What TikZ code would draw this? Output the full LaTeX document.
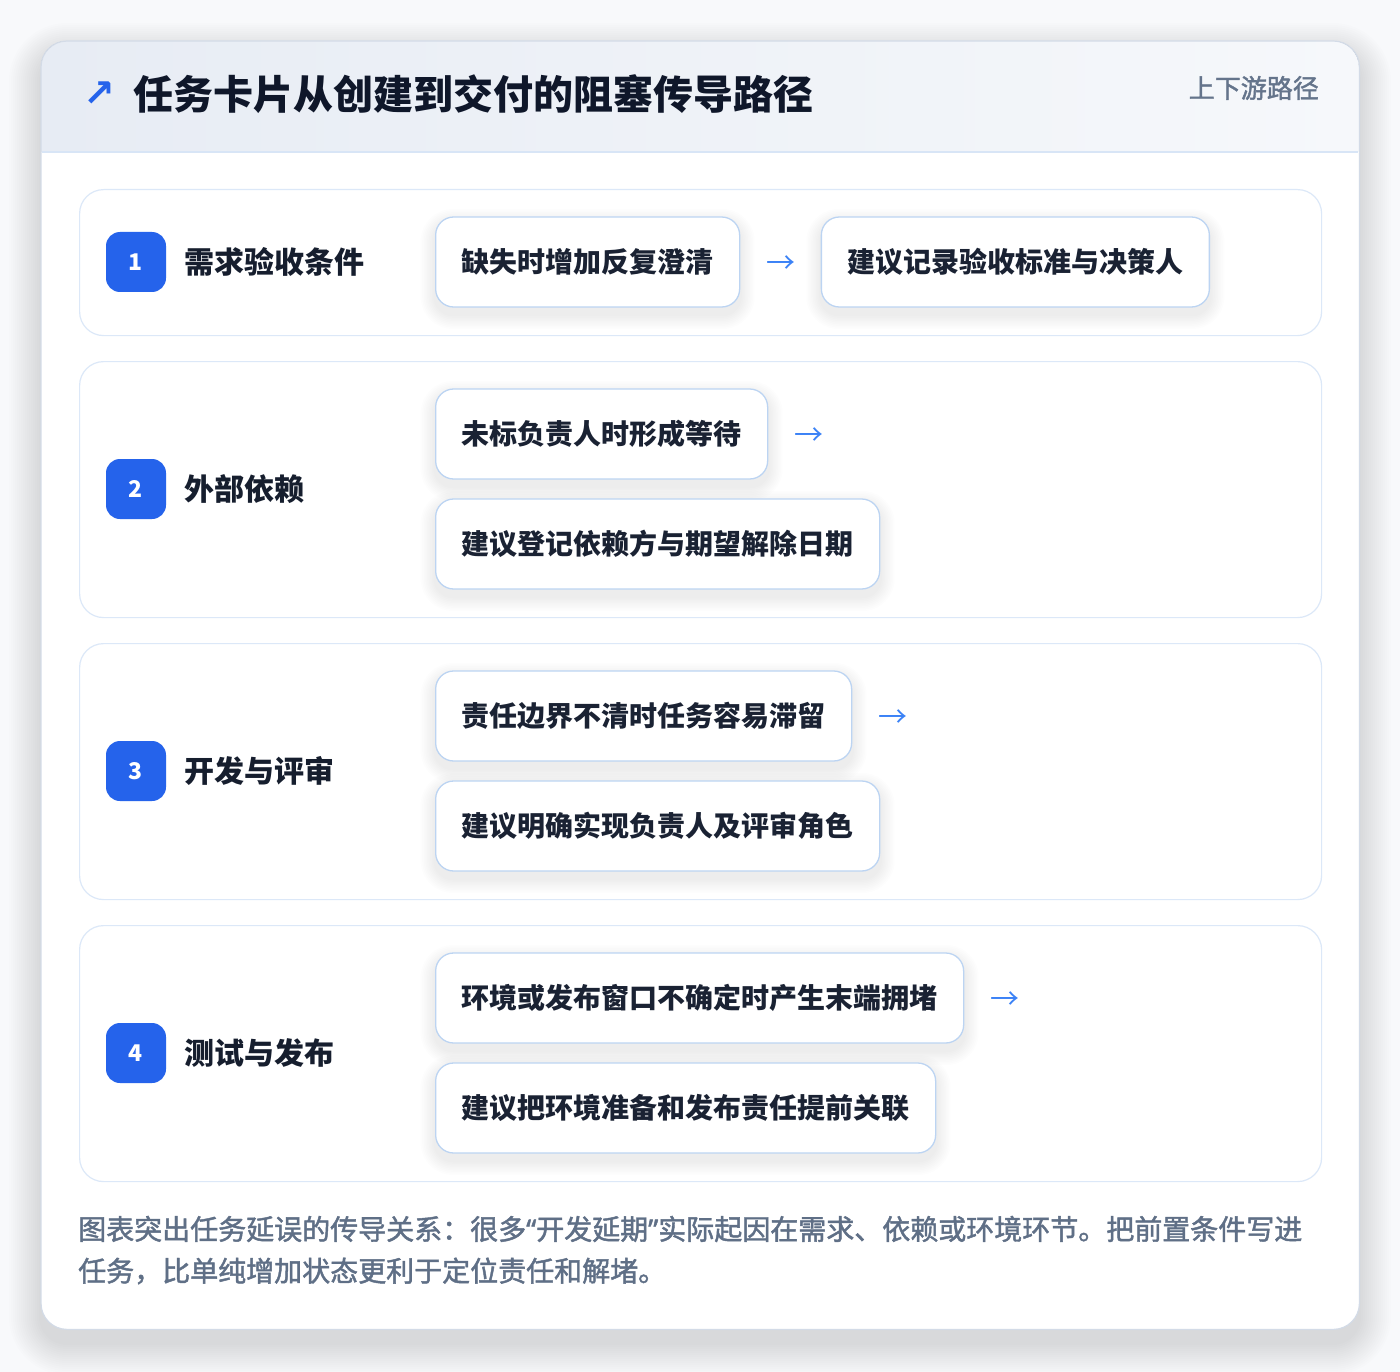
\documentclass[tikz,border=0pt]{standalone}
\usepackage{fontspec}
\setmainfont{Noto Sans CJK SC}
\newfontfamily\symfont{DejaVu Sans}
\newfontfamily\footfont{Noto Sans CJK SC}[FakeBold=1.6]
\newfontfamily\quotefont{Noto Sans}[FakeBold=1.6]
\usetikzlibrary{positioning}
\pgfdeclarelayer{rowlayer}
\pgfdeclarelayer{shadowlayer}
\pgfsetlayers{rowlayer,shadowlayer,main}
\definecolor{pagebg}{HTML}{F8F9FB}
\definecolor{cardline}{HTML}{D3DBE7}
\definecolor{headL}{HTML}{E7ECF4}
\definecolor{headR}{HTML}{F6F8FB}
\definecolor{headline}{HTML}{D8E5F6}
\definecolor{rowline}{HTML}{DCE8F8}
\definecolor{chipline}{HTML}{BCD4F2}
\definecolor{badgeblue}{HTML}{2563EB}
\definecolor{arrblue}{HTML}{3B82F6}
\definecolor{titlec}{HTML}{0F172A}
\definecolor{lblc}{HTML}{161E2E}
\definecolor{chipc}{HTML}{1A2233}
\definecolor{footc}{HTML}{5F6F86}
\definecolor{subc}{HTML}{64748B}
\tikzset{
  x=1pt, y=-1pt,
  rowbox/.style={draw=rowline, line width=1.2pt, fill=white, rounded corners=24pt,
    minimum width=1242pt, anchor=north west, inner sep=0pt},
  chipbox/.style={draw=chipline, line width=1.3pt, fill=white, rounded corners=18pt,
    minimum height=90pt, inner xsep=26pt, inner ysep=0pt, anchor=west,
    text=chipc, font=\fontsize{28pt}{34pt}\selectfont\bfseries},
  badge/.style={fill=badgeblue, rounded corners=14pt, minimum size=60pt, inner sep=0pt,
    text=white, font=\fontsize{23pt}{26pt}\selectfont\bfseries},
  lbl/.style={anchor=west, inner sep=0pt, text=lblc, font=\fontsize{30pt}{36pt}\selectfont\bfseries},
  arrtxt/.style={anchor=west, inner sep=0pt, text=arrblue, yshift=-3pt, font=\fontsize{29pt}{32pt}\selectfont},
  foot/.style={anchor=west, inner sep=0pt, text=footc, font=\footfont\fontsize{28pt}{32pt}\selectfont},
}
\newcommand{\chipshadow}[1]{%
  \foreach \i in {1,...,9}{
    \fill[black, opacity=0.009, rounded corners=18pt+\i*1.6pt]
      ([xshift=-\i*1.6pt, yshift=\i*1.6pt-7pt]#1.north west) rectangle
      ([xshift=\i*1.6pt, yshift=-\i*1.6pt-7pt]#1.south east);
  }}
\begin{document}
\begin{tikzpicture}
\begin{pgfonlayer}{rowlayer}
\useasboundingbox (0,0) rectangle (1400,1372);
\fill[pagebg] (0,0) rectangle (1400,1372);
% card shadow
\foreach \i in {1,...,16}{
  \fill[black, opacity=0.007, rounded corners=26pt+\i*2pt]
    (41-\i*2, 41-\i*2+14) rectangle (1359+\i*2, 1329+\i*2+14);
}
% card
\node[fill=white, rounded corners=26pt, minimum width=1318pt, minimum height=1288pt,
  anchor=north west, inner sep=0pt] (card) at (41,41) {};
\begin{scope}
  \clip[rounded corners=26pt] (41,41) rectangle (1359,1329);
  \fill[left color=headL, right color=headR] (41,41) rectangle (1359,152);
\end{scope}
\draw[headline, line width=1.2pt] (41.6,152) -- (1358.4,152);
\draw[cardline, line width=1.2pt, rounded corners=26pt] (card.north west) rectangle (card.south east);
% rows
\node[rowbox, minimum height=146pt] (r1) at (79,189) {};
\node[rowbox, minimum height=256pt] (r2) at (79,361) {};
\node[rowbox, minimum height=256pt] (r3) at (79,643) {};
\node[rowbox, minimum height=256pt] (r4) at (79,925) {};
\end{pgfonlayer}
% header
\node[anchor=center, inner sep=0pt, text=badgeblue, font=\symfont\fontsize{38pt}{40pt}\selectfont\bfseries] (harrow) at (99,94) {↗};
\node[anchor=west, inner sep=0pt, text=titlec, font=\fontsize{40pt}{46pt}\selectfont\bfseries] (title) at (133,94) {任务卡片从创建到交付的阻塞传导路径};
\node[anchor=east, inner sep=0pt, text=subc, font=\footfont\fontsize{26pt}{30pt}\selectfont] (sub) at (1319,88) {上下游路径};
% row 1
\node[badge] (b1) at (136,262) {1};
\node[lbl] (l1) at (184,262) {需求验收条件};
\node[chipbox] (c11) at (435,262) {缺失时增加反复澄清};
\node[arrtxt, right=26pt of c11] (a1) {→};
\node[chipbox, right=25pt of a1, yshift=3pt] (c12) {建议记录验收标准与决策人};
% row 2
\node[badge] (b2) at (136,489) {2};
\node[lbl] (l2) at (184,489) {外部依赖};
\node[chipbox] (c21) at (435,434) {未标负责人时形成等待};
\node[arrtxt, right=26pt of c21] (a2) {→};
\node[chipbox] (c22) at (435,544) {建议登记依赖方与期望解除日期};
% row 3
\node[badge] (b3) at (136,771) {3};
\node[lbl] (l3) at (184,771) {开发与评审};
\node[chipbox] (c31) at (435,716) {责任边界不清时任务容易滞留};
\node[arrtxt, right=26pt of c31] (a3) {→};
\node[chipbox] (c32) at (435,826) {建议明确实现负责人及评审角色};
% row 4
\node[badge] (b4) at (136,1053) {4};
\node[lbl] (l4) at (184,1053) {测试与发布};
\node[chipbox] (c41) at (435,998) {环境或发布窗口不确定时产生末端拥堵};
\node[arrtxt, right=26pt of c41] (a4) {→};
\node[chipbox] (c42) at (435,1108) {建议把环境准备和发布责任提前关联};
% chip shadows
\begin{pgfonlayer}{shadowlayer}
\chipshadow{c11}\chipshadow{c12}
\chipshadow{c21}\chipshadow{c22}
\chipshadow{c31}\chipshadow{c32}
\chipshadow{c41}\chipshadow{c42}
\end{pgfonlayer}
% footer
\node[foot] (f1) at (78,1229) {图表突出任务延误的传导关系：很多{\quotefont “}开发延期{\quotefont ”}实际起因在需求、依赖或环境环节。把前置条件写进};
\node[foot] (f2) at (78,1271) {任务，比单纯增加状态更利于定位责任和解堵。};
\end{tikzpicture}
\end{document}
